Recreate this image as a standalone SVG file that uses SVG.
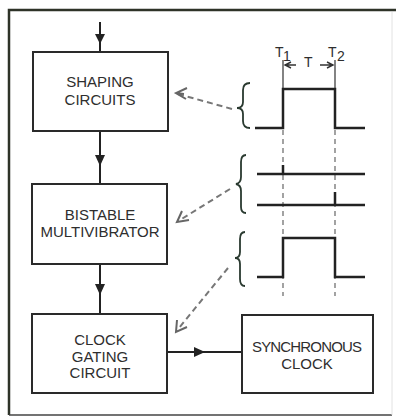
<svg xmlns="http://www.w3.org/2000/svg" width="397" height="417" viewBox="0 0 397 417">
<style>
.box{fill:#fff;stroke:#2a2a2a;stroke-width:2}
.lbl{font-family:"Liberation Sans",Arial,sans-serif;font-size:15px;fill:#2e2e2e;text-anchor:middle}
.wire{fill:none;stroke:#222;stroke-width:2}
.dash{fill:none;stroke:#777;stroke-width:2;stroke-dasharray:6 4}
.chev{fill:none;stroke:#666;stroke-width:2}
.vdash{fill:none;stroke:#666;stroke-width:1.2;stroke-dasharray:5 4}
.wave{fill:none;stroke:#222;stroke-width:2.5}
.brace{fill:none;stroke:#2a3a30;stroke-width:1.8}
.tl{font-family:"Liberation Sans",Arial,sans-serif;font-size:14px;fill:#2e2e2e}
</style>
<rect width="397" height="417" fill="#fff"/>
<path d="M9,415 L9,10 L396,10" fill="none" stroke="#2e3328" stroke-width="2.5"/>
<path d="M9,415 L392,415" fill="none" stroke="#444" stroke-width="1.5"/>
<path d="M392,12 L392,415" fill="none" stroke="#e2e2e2" stroke-width="1"/>

<g id="connectors">
<path class="wire" d="M100,22 L100,52"/>
<path d="M95,34 L105,34 L100,44 Z" fill="#222"/>
<path class="wire" d="M100,131 L100,184"/>
<path d="M95,155 L105,155 L100,166 Z" fill="#222"/>
<path class="wire" d="M100,264 L100,314"/>
<path d="M95,284 L105,284 L100,295 Z" fill="#222"/>
<path class="wire" d="M167,352 L242,352"/>
<path d="M194,347 L205,352 L194,357 Z" fill="#222"/>
<path class="dash" d="M232,109 L178,94"/>
<path class="chev" d="M187,88 L176,93 L186,99 M176,93 L184,94"/>
<path class="dash" d="M230,189 L180,220"/>
<path class="chev" d="M182,211 L177,222 L189,220"/>
<path class="dash" d="M228,268 L179,328"/>
<path class="chev" d="M177,320 L176,332 L187,327"/>
</g>

<g id="shaping">
<rect class="box" x="33" y="52" width="135" height="79"/>
<text class="lbl" x="100" y="87">SHAPING</text>
<text class="lbl" x="100" y="105">CIRCUITS</text>
</g>
<g id="bistable">
<rect class="box" x="32" y="184" width="135" height="80"/>
<text class="lbl" x="100" y="220">BISTABLE</text>
<text class="lbl" x="100" y="237">MULTIVIBRATOR</text>
</g>
<g id="clockgating">
<rect class="box" x="32" y="314" width="135" height="79"/>
<text class="lbl" x="100" y="345">CLOCK</text>
<text class="lbl" x="100" y="362">GATING</text>
<text class="lbl" x="100" y="378">CIRCUIT</text>
</g>
<g id="syncclock">
<rect class="box" x="242" y="315" width="131" height="78"/>
<text class="lbl" x="307" y="352" textLength="110">SYNCHRONOUS</text>
<text class="lbl" x="307" y="369">CLOCK</text>
</g>

<g id="waveforms">
<text class="tl" x="275" y="57">T</text>
<text class="tl" x="283" y="61" font-size="10">1</text>
<text class="tl" x="328" y="57">T</text>
<text class="tl" x="337" y="61" font-size="13">2</text>
<text class="tl" x="304" y="67">T</text>
<path d="M283,60 L283,89 M335,60 L335,89" fill="none" stroke="#333" stroke-width="1.2"/>
<path d="M291,62 L285,65 L291,68 M285,65 L296,65 M320,65 L333,65 M327,62 L333,65 L327,68" fill="none" stroke="#333" stroke-width="1.4"/>
<path class="vdash" d="M283,130 L283,296 M335,130 L335,296"/>
<path class="wave" d="M255,128 L283,128 L283,89 L335,89 L335,128 L365,128"/>
<path class="wave" d="M257,174 L365,174 M283,174 L283,165 M257,205 L365,205 M335,205 L335,192"/>
<path class="wave" d="M257,277 L283,277 L283,238 L335,238 L335,277 L365,277"/>
<path class="brace" d="M250,83 Q243,83 243,90 L243,102 Q243,108 237,108 Q243,108 243,114 L243,121 Q243,128 250,128"/>
<path class="brace" d="M246,155 Q241,155 241,162 L241,177 Q241,183 236,184 Q241,185 241,191 L241,207 Q241,213 246,213"/>
<path class="brace" d="M245,232 Q240,232 240,239 L240,252 Q240,258 235,258 Q240,258 240,264 L240,279 Q240,286 245,286"/>
</g>
</svg>
